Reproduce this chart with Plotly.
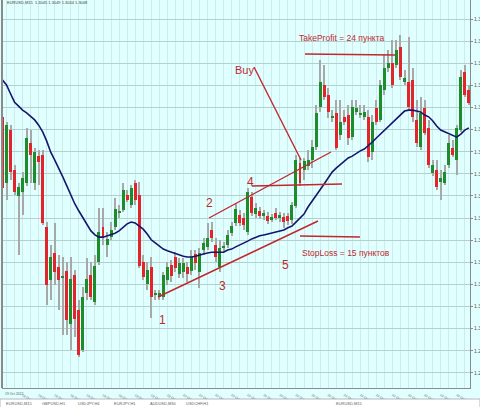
import numpy as np
import plotly.graph_objects as go

# ---------------- data (EURUSD, M15) ----------------
opens = [1.30479, 1.30329, 1.30449, 1.30359, 1.30300, 1.30309, 1.30329, 1.30420, 1.30329, 1.30390,
         1.30393, 1.30230, 1.30110, 1.30171, 1.30140, 1.30115, 1.30131, 1.30011, 1.30121, 1.30042,
         1.29952, 1.30081, 1.30121, 1.30060, 1.30151, 1.30230, 1.30189, 1.30207, 1.30230, 1.30262,
         1.30268, 1.30302, 1.30280, 1.30329, 1.30302, 1.30151, 1.30101, 1.30140, 1.30076, 1.30072,
         1.30072, 1.30110, 1.30144, 1.30162, 1.30124, 1.30128, 1.30140, 1.30131, 1.30169, 1.30128,
         1.30178, 1.30185, 1.30223, 1.30189, 1.30140, 1.30183, 1.30189, 1.30216, 1.30239, 1.30257,
         1.30250, 1.30219, 1.30298, 1.30259, 1.30266, 1.30255, 1.30255, 1.30246, 1.30262, 1.30250,
         1.30253, 1.30255, 1.30246, 1.30277, 1.30375, 1.30359, 1.30368, 1.30381, 1.30411, 1.30501,
         1.30551, 1.30528, 1.30476, 1.30488, 1.30438, 1.30479, 1.30483, 1.30433, 1.30490, 1.30485,
         1.30479, 1.30479, 1.30399, 1.30499, 1.30472, 1.30540, 1.30589, 1.30601, 1.30596, 1.30637,
         1.30558, 1.30558, 1.30562, 1.30472, 1.30411, 1.30499, 1.30454, 1.30352, 1.30359, 1.30332,
         1.30329, 1.30370, 1.30409, 1.30381, 1.30449, 1.30580, 1.30540]

highs = [1.30488, 1.30467, 1.30460, 1.30370, 1.30329, 1.30354, 1.30454, 1.30449, 1.30409, 1.30404,
         1.30404, 1.30241, 1.30189, 1.30239, 1.30167, 1.30162, 1.30151, 1.30162, 1.30133, 1.30065,
         1.30094, 1.30160, 1.30151, 1.30167, 1.30273, 1.30273, 1.30219, 1.30241, 1.30296, 1.30280,
         1.30329, 1.30314, 1.30325, 1.30336, 1.30332, 1.30167, 1.30151, 1.30162, 1.30088, 1.30088,
         1.30128, 1.30151, 1.30155, 1.30173, 1.30160, 1.30160, 1.30151, 1.30178, 1.30178, 1.30183,
         1.30205, 1.30239, 1.30241, 1.30205, 1.30201, 1.30196, 1.30223, 1.30241, 1.30284, 1.30268,
         1.30262, 1.30318, 1.30309, 1.30284, 1.30275, 1.30268, 1.30264, 1.30259, 1.30273, 1.30264,
         1.30262, 1.30262, 1.30286, 1.30393, 1.30386, 1.30386, 1.30404, 1.30427, 1.30506, 1.30607,
         1.30596, 1.30544, 1.30494, 1.30517, 1.30517, 1.30494, 1.30506, 1.30517, 1.30517, 1.30506,
         1.30506, 1.30494, 1.30483, 1.30517, 1.30562, 1.30619, 1.30630, 1.30653, 1.30653, 1.30664,
         1.30585, 1.30659, 1.30589, 1.30517, 1.30524, 1.30517, 1.30472, 1.30381, 1.30381, 1.30359,
         1.30370, 1.30438, 1.30427, 1.30460, 1.30585, 1.30596, 1.30551]

lows = [1.30314, 1.30291, 1.30336, 1.30302, 1.30167, 1.30257, 1.30323, 1.30329, 1.30314, 1.30325,
        1.30234, 1.30054, 1.30065, 1.30099, 1.30042, 1.29986, 1.29986, 1.29952, 1.29981, 1.29936,
        1.29947, 1.30065, 1.30065, 1.30054, 1.30144, 1.30189, 1.30162, 1.30201, 1.30223, 1.30250,
        1.30264, 1.30286, 1.30273, 1.30280, 1.30137, 1.30110, 1.30088, 1.30024, 1.30065, 1.30065,
        1.30065, 1.30099, 1.30106, 1.30128, 1.30115, 1.30115, 1.30106, 1.30121, 1.30133, 1.30092,
        1.30167, 1.30178, 1.30196, 1.30151, 1.30128, 1.30173, 1.30183, 1.30210, 1.30232, 1.30232,
        1.30223, 1.30212, 1.30255, 1.30250, 1.30248, 1.30246, 1.30237, 1.30241, 1.30246, 1.30241,
        1.30228, 1.30234, 1.30237, 1.30273, 1.30323, 1.30336, 1.30359, 1.30363, 1.30404, 1.30490,
        1.30517, 1.30476, 1.30467, 1.30404, 1.30427, 1.30460, 1.30415, 1.30427, 1.30483, 1.30476,
        1.30472, 1.30377, 1.30381, 1.30460, 1.30467, 1.30528, 1.30580, 1.30544, 1.30589, 1.30562,
        1.30551, 1.30494, 1.30467, 1.30411, 1.30404, 1.30438, 1.30363, 1.30345, 1.30314, 1.30291,
        1.30325, 1.30363, 1.30388, 1.30347, 1.30445, 1.30524, 1.30506]

closes = [1.30318, 1.30460, 1.30354, 1.30309, 1.30320, 1.30341, 1.30431, 1.30393, 1.30399, 1.30377,
          1.30239, 1.30099, 1.30162, 1.30128, 1.30110, 1.30119, 1.30020, 1.30112, 1.30022, 1.29941,
          1.30072, 1.30112, 1.30072, 1.30142, 1.30219, 1.30207, 1.30203, 1.30223, 1.30271, 1.30264,
          1.30314, 1.30291, 1.30318, 1.30291, 1.30142, 1.30117, 1.30133, 1.30072, 1.30081, 1.30081,
          1.30121, 1.30140, 1.30119, 1.30137, 1.30149, 1.30149, 1.30124, 1.30162, 1.30149, 1.30171,
          1.30194, 1.30205, 1.30205, 1.30162, 1.30183, 1.30187, 1.30212, 1.30232, 1.30271, 1.30239,
          1.30234, 1.30309, 1.30262, 1.30273, 1.30255, 1.30262, 1.30244, 1.30253, 1.30250, 1.30257,
          1.30241, 1.30244, 1.30280, 1.30381, 1.30329, 1.30379, 1.30381, 1.30411, 1.30488, 1.30558,
          1.30524, 1.30490, 1.30481, 1.30409, 1.30467, 1.30467, 1.30431, 1.30501, 1.30499, 1.30488,
          1.30490, 1.30388, 1.30467, 1.30467, 1.30551, 1.30589, 1.30601, 1.30551, 1.30630, 1.30569,
          1.30567, 1.30501, 1.30479, 1.30420, 1.30488, 1.30442, 1.30370, 1.30370, 1.30320, 1.30341,
          1.30354, 1.30420, 1.30393, 1.30454, 1.30569, 1.30528, 1.30510]

moving_avg = [1.30562, 1.30551, 1.30531, 1.30512, 1.30503, 1.30494, 1.30488, 1.30481, 1.30472, 1.30460,
              1.30445, 1.30424, 1.30399, 1.30381, 1.30363, 1.30343, 1.30323, 1.30302, 1.30282, 1.30266,
              1.30250, 1.30234, 1.30221, 1.30212, 1.30207, 1.30207, 1.30210, 1.30212, 1.30216, 1.30221,
              1.30230, 1.30237, 1.30241, 1.30239, 1.30232, 1.30225, 1.30214, 1.30201, 1.30194, 1.30187,
              1.30180, 1.30176, 1.30173, 1.30169, 1.30167, 1.30164, 1.30162, 1.30162, 1.30164, 1.30167,
              1.30169, 1.30171, 1.30173, 1.30173, 1.30173, 1.30173, 1.30178, 1.30180, 1.30185, 1.30189,
              1.30194, 1.30198, 1.30203, 1.30207, 1.30210, 1.30212, 1.30214, 1.30216, 1.30219, 1.30221,
              1.30223, 1.30228, 1.30232, 1.30241, 1.30250, 1.30259, 1.30275, 1.30289, 1.30300, 1.30314,
              1.30327, 1.30341, 1.30354, 1.30363, 1.30370, 1.30379, 1.30386, 1.30390, 1.30397, 1.30402,
              1.30406, 1.30413, 1.30422, 1.30431, 1.30440, 1.30449, 1.30458, 1.30467, 1.30476, 1.30485,
              1.30492, 1.30494, 1.30494, 1.30492, 1.30490, 1.30483, 1.30479, 1.30470, 1.30458, 1.30449,
              1.30445, 1.30440, 1.30436, 1.30433, 1.30440, 1.30449, 1.30454]

first_time_label = "19 Oct 2012"
time_labels = ["19 Oct 14:00", "19 Oct 15:00", "19 Oct 16:00", "19 Oct 17:00", "19 Oct 18:00",
               "19 Oct 19:00", "19 Oct 20:00", "19 Oct 21:00", "19 Oct 22:00", "19 Oct 23:00",
               "22 Oct 00:00", "22 Oct 01:00", "22 Oct 02:00", "22 Oct 03:00", "22 Oct 04:00",
               "22 Oct 05:00", "22 Oct 06:00", "22 Oct 07:00", "22 Oct 08:00", "22 Oct 09:00",
               "22 Oct 10:00", "22 Oct 11:00", "22 Oct 12:00", "22 Oct 13:00", "22 Oct 14:00",
               "22 Oct 15:00", "22 Oct 16:00", "22 Oct 17:00", "22 Oct 18:00"]

price_ticks = [1.2990, 1.2995, 1.3000, 1.3005, 1.3010, 1.3015, 1.3020, 1.3025, 1.3030,
               1.3035, 1.3040, 1.3045, 1.3050, 1.3055, 1.3060, 1.3065, 1.3070]

# ---------------- styling ----------------
BG = "#e0ffff"
GRID_H = "#b3cfcf"
GRID_V = "#cfeaea"
UP = "#1e8c2b"
DOWN = "#e3242b"
WICK = "#a8a8a8"
MA_COLOR = "#16166e"
ANN = "#c0282d"
FONT = "Liberation Sans Narrow, Arial Narrow, Liberation Sans, Arial, sans-serif"

W, H = 480, 407
X0, X1, YT, YB = 2, 470, 0, 388   # plot area in pixels


def px(x):
    return (x - X0) / (X1 - X0)


def py(y):
    return 1 - (y - YT) / (YB - YT)


o = np.array(opens)
c = np.array(closes)
hi = np.array(highs)
lo = np.array(lows)
idx = np.arange(len(opens))

body_base = np.minimum(o, c)
body_h = np.abs(c - o)
body_col = [UP if cc >= oo else DOWN for oo, cc in zip(o, c)]

fig = go.Figure()
# wicks (thin bars, drawn first)
fig.add_trace(go.Bar(x=idx, y=hi - lo, base=lo, width=0.25,
                     marker=dict(color=WICK, line=dict(width=0)), showlegend=False))
# bodies
fig.add_trace(go.Bar(x=idx, y=body_h, base=body_base, width=0.74,
                     marker=dict(color=body_col, line=dict(width=0)), showlegend=False))
# moving average
fig.add_trace(go.Scatter(x=idx, y=moving_avg, mode="lines",
                         line=dict(color=MA_COLOR, width=1.6), showlegend=False))

# ---------- red hand-drawn analysis lines ----------
segments = [
    ((158, 297), (318, 221)),   # lower trend line
    ((209, 218), (331, 152)),   # upper channel line
    ((252, 186), (342, 184)),   # level 4
    ((300, 236), (360, 237)),   # stop loss level
    ((305, 54), (395, 55)),     # take profit level
    ((254, 67), (301, 160)),    # Buy pointer
]
shapes = []
for (xa, ya), (xb, yb) in segments:
    shapes.append(dict(type="line", xref="paper", yref="paper",
                       x0=px(xa), y0=py(ya), x1=px(xb), y1=py(yb),
                       line=dict(color=ANN, width=1.4)))

# left border
shapes.append(dict(type="line", xref="paper", yref="paper", x0=0, x1=0, y0=0, y1=1,
                   line=dict(color="#8a8a8a", width=2)))
# bottom tab bar
shapes.append(dict(type="rect", xref="paper", yref="paper",
                   x0=px(0), x1=px(480), y0=py(399), y1=py(408),
                   fillcolor="#ffffff", line=dict(color="#b8b8b8", width=1), layer="above"))

texts = [
    ("Buy", 244, 70, 11),
    ("TakeProfit = 24 пункта", 341, 38, 8.5),
    ("StopLoss = 15 пунктов", 346, 253, 8.5),
    ("1", 162, 320, 12),
    ("2", 209, 203, 12),
    ("3", 222, 286, 12),
    ("4", 250, 182, 12),
    ("5", 285, 265, 12),
]
annotations = []
for t, x, y, s in texts:
    annotations.append(dict(text=t, xref="paper", yref="paper", x=px(x), y=py(y),
                            xanchor="center", yanchor="middle", showarrow=False,
                            font=dict(family=FONT, size=s, color=ANN)))

annotations.append(dict(text="EURUSD,M15  1.3045 1.3049 1.3044 1.3048", xref="paper", yref="paper",
                        x=px(5), y=py(3), xanchor="left", yanchor="middle", showarrow=False,
                        font=dict(family=FONT, size=4, color="#404040")))
annotations.append(dict(text=first_time_label, xref="paper", yref="paper",
                        x=px(3), y=py(394), xanchor="left", yanchor="middle", showarrow=False,
                        font=dict(family=FONT, size=3.4, color="#555555")))
for t, x in [("EURUSD,M15", 4), ("GBPUSD,H1", 40), ("USDJPY,H4", 76), ("EURJPY,H1", 112),
             ("AUDUSD,M30", 148), ("USDCHF,H1", 184), ("EURUSD,M15", 334)]:
    annotations.append(dict(text=t, xref="paper", yref="paper", x=px(x), y=py(403.5),
                            xanchor="left", yanchor="middle", showarrow=False,
                            font=dict(family=FONT, size=4, color="#606060")))

tick_pos = list(range(3, 3 + 4 * len(time_labels), 4))

fig.update_layout(
    width=W, height=H,
    margin=dict(l=X0, r=W - X1, t=YT, b=H - YB, pad=0, autoexpand=False),
    paper_bgcolor=BG, plot_bgcolor=BG,
    showlegend=False, hovermode=False,
    barmode="overlay", bargap=0,
    shapes=shapes, annotations=annotations,
    xaxis=dict(range=[-0.124, 116.29], tickmode="array", tickvals=tick_pos, ticktext=time_labels,
               showgrid=True, gridcolor=GRID_V, gridwidth=1,
               minor=dict(tick0=1, dtick=2, showgrid=True, gridcolor=GRID_V, gridwidth=1),
               showline=True, linecolor="#8a8a8a", linewidth=1,
               ticks="", tickfont=dict(family=FONT, size=3.4, color="#555555"),
               ticklabelshift=8, ticklabelstandoff=3,
               zeroline=False, automargin=False, fixedrange=True),
    yaxis=dict(range=[1.29866, 1.30743], side="right", tickmode="array", tickvals=price_ticks,
               tickformat=".4f", showgrid=True, gridcolor=GRID_H, gridwidth=1,
               showline=True, linecolor="#8a8a8a", linewidth=1,
               ticks="outside", ticklen=2, tickcolor="#8a8a8a",
               tickfont=dict(family=FONT, size=5, color="#555555"),
               zeroline=False, automargin=False, fixedrange=True),
)

fig.write_html("out.html", config={"displayModeBar": False},
               post_script="document.body.style.margin='0';document.body.style.overflow='hidden';")
